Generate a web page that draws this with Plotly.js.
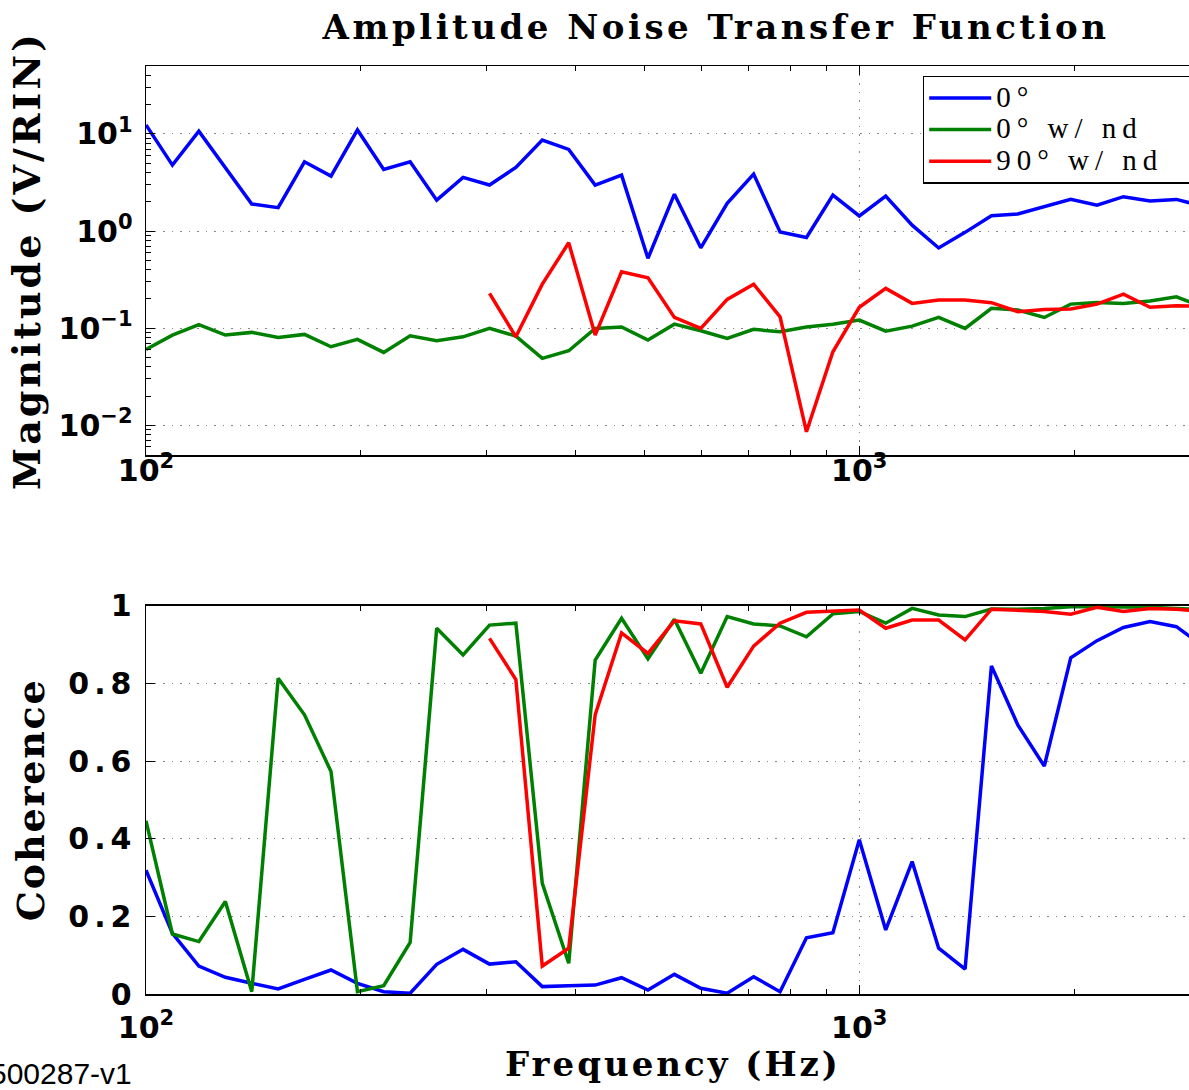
<!DOCTYPE html>
<html><head><meta charset="utf-8">
<script src="https://cdn.plot.ly/plotly-3.0.1.min.js"></script>
<style>
html,body{margin:0;padding:0;overflow:hidden;background:#fff;}
#chart{width:1210px;height:1090px;}
.gtitle{letter-spacing:3.5px;}
.ytitle{letter-spacing:3px;}
.y2title{letter-spacing:1.8px;}
.xtitle,.x2title{letter-spacing:3px;}
.y2tick text{letter-spacing:5px;}
.legendtext{letter-spacing:6px;font-size:29px !important;}
.legend rect.bg{width:290px !important;}
</style></head><body><div id="chart"></div>
<script>
const freq = [100,108.9,118.6,129.2,140.7,153.2,166.8,181.7,197.9,215.4,234.6,255.6,278.3,303.1,330.0,359.4,391.4,426.3,464.2,505.5,550.5,599.5,652.8,711.0,774.3,843.2,918.3,1000,1089,1186,1292,1407,1532,1668,1817,1979,2154,2346,2556,2783,3031];
const seriesNames = ['0°', '0° w/ nd', '90° w/ nd'];
const magBlue = [12.4,4.78,10.7,4.5,1.9,1.74,5.17,3.68,11.0,4.32,5.17,2.08,3.57,2.98,4.53,8.65,6.94,2.98,3.77,0.524,2.40,0.673,1.93,3.86,0.98,0.86,2.35,1.43,2.29,1.15,0.67,0.97,1.44,1.50,1.78,2.12,1.85,2.26,2.04,2.12,1.81];
const magGreen = [0.0605,0.0849,0.109,0.0849,0.0905,0.0804,0.0863,0.0644,0.0767,0.0563,0.0835,0.0742,0.0815,0.0995,0.0829,0.0489,0.0585,0.0995,0.103,0.0754,0.110,0.094,0.0785,0.0972,0.0918,0.103,0.110,0.121,0.0933,0.105,0.129,0.0995,0.160,0.154,0.129,0.177,0.184,0.180,0.191,0.210,0.166];
const magRed = [null,null,null,null,null,null,null,null,null,null,null,null,null,0.228,0.0815,0.284,0.758,0.0849,0.381,0.331,0.129,0.0995,0.198,0.284,0.131,0.00857,0.0571,0.164,0.257,0.180,0.195,0.195,0.183,0.148,0.156,0.158,0.177,0.224,0.164,0.170,0.169];
const cohBlue = [0.319,0.156,0.072,0.043,0.0275,0.0129,0.0378,0.0618,0.0275,0.006,0.002,0.0764,0.115,0.077,0.083,0.019,0.0215,0.023,0.042,0.0103,0.0506,0.0146,0.002,0.0446,0.006,0.145,0.158,0.397,0.165,0.341,0.118,0.064,0.845,0.693,0.587,0.866,0.91,0.944,0.959,0.946,0.896];
const cohGreen = [0.446,0.1545,0.135,0.238,0.006,0.813,0.719,0.573,0.006,0.0215,0.133,0.942,0.873,0.950,0.955,0.285,0.079,0.860,0.9675,0.863,0.965,0.826,0.972,0.953,0.948,0.920,0.979,0.985,0.955,0.993,0.976,0.972,0.9915,0.991,0.993,0.9975,0.9975,0.9975,0.996,0.993,0.99];
const cohRed = [null,null,null,null,null,null,null,null,null,null,null,null,null,0.916,0.810,0.072,0.118,0.719,0.930,0.877,0.961,0.953,0.790,0.896,0.955,0.983,0.986,0.989,0.942,0.963,0.963,0.912,0.991,0.989,0.985,0.978,0.996,0.985,0.993,0.991,0.985];
const xTickVals = [100, 1000];
const xTickText = ['10<sup>2</sup>', '10<sup>3</sup>'];
const magTickVals = [0.01, 0.1, 1, 10];
const magTickText = ['10<sup>−2</sup>', '10<sup>−1</sup>', '10<sup>0</sup>', '10<sup>1</sup>'];
const cohTickVals = [0, 0.2, 0.4, 0.6, 0.8, 1];
const cohTickText = ['0', '0.2', '0.4', '0.6', '0.8', '1'];
const colors = ['#0000ff', '#008000', '#ff0000'];

const W = 1210, H = 1090;
const L = 146, R = 10;
const plotW = W - L - R;
const decadePx = 713.3;

function line(x, y, i, xa, ya, show) {
  return {x: x, y: y, xaxis: xa, yaxis: ya, type: 'scatter', mode: 'lines',
    name: seriesNames[i], showlegend: show, connectgaps: false,
    line: {color: colors[i], width: 3.5}};
}
const data = [
  line(freq, magBlue, 0, 'x', 'y', true),
  line(freq, magGreen, 1, 'x', 'y', true),
  line(freq, magRed, 2, 'x', 'y', true),
  line(freq, cohBlue, 0, 'x2', 'y2', false),
  line(freq, cohGreen, 1, 'x2', 'y2', false),
  line(freq, cohRed, 2, 'x2', 'y2', false)
];

const tickFont = {family: 'DejaVu Sans, Verdana, sans-serif', size: 30, color: '#000', weight: 'bold'};
const serif = 'DejaVu Serif, Liberation Serif, serif';
const titleFont = {family: serif, size: 34, color: '#000', weight: 'bold'};
const yTitleFont = {family: serif, size: 38, color: '#000', weight: 'bold'};
const gridDash = '1.5px,7px';
const xRange = [2, 2 + plotW / decadePx];

function xAxis(anchor, standoff) {
  return {type: 'log', range: xRange, domain: [0, 1], anchor: anchor,
    tickmode: 'array', tickvals: xTickVals, ticktext: xTickText,
    ticks: 'inside', ticklen: 9, tickwidth: 1, tickcolor: '#000',
    showline: true, linecolor: '#000', linewidth: 1.5, mirror: 'ticks',
    showgrid: true, gridcolor: '#888', gridwidth: 1, griddash: gridDash,
    zeroline: false, tickfont: tickFont, ticklabelstandoff: standoff,
    minor: {ticks: 'inside', ticklen: 5, tickcolor: '#000', dtick: 'D1', showgrid: false}};
}

const layout = {
  width: W, height: H,
  margin: {l: L, r: R, t: 0, b: 0, autoexpand: false},
  paper_bgcolor: '#fff', plot_bgcolor: '#fff',
  showlegend: true,
  title: {text: 'Amplitude Noise Transfer Function', font: titleFont,
    x: 716 / W, xref: 'container', xanchor: 'center',
    y: 1 - 27 / H, yref: 'container', yanchor: 'middle'},
  xaxis: xAxis('y', -12),
  xaxis2: Object.assign(xAxis('y2', 6), {title: {text: 'Frequency (Hz)', font: titleFont, standoff: 0}}),
  yaxis: {type: 'log', range: [-2.306, 1.700], domain: [1 - 455 / H, 1 - 66 / H], anchor: 'x',
    tickmode: 'array', tickvals: magTickVals, ticktext: magTickText,
    ticks: 'inside', ticklen: 9, tickwidth: 1, tickcolor: '#000',
    showline: true, linecolor: '#000', linewidth: 1.5, mirror: 'ticks',
    showgrid: true, gridcolor: '#888', gridwidth: 1, griddash: gridDash,
    zeroline: false, tickfont: tickFont, ticklabelstandoff: 6,
    minor: {ticks: 'inside', ticklen: 5, tickcolor: '#000', dtick: 'D1', showgrid: false},
    title: {text: 'Magnitude (V/RIN)', font: yTitleFont, standoff: 6}},
  yaxis2: {range: [0, 1], domain: [1 - 994 / H, 1 - 605.7 / H], anchor: 'x2',
    tickmode: 'array', tickvals: cohTickVals, ticktext: cohTickText,
    ticks: 'inside', ticklen: 9, tickwidth: 1, tickcolor: '#000',
    showline: true, linecolor: '#000', linewidth: 1.5, mirror: 'ticks',
    showgrid: true, gridcolor: '#888', gridwidth: 1, griddash: gridDash,
    zeroline: false, tickfont: tickFont, ticklabelstandoff: 2,
    title: {text: 'Coherence', font: yTitleFont, standoff: 12}},
  legend: {x: (922.7 - L) / plotW, xanchor: 'left', y: 1 - 75.7 / H, yanchor: 'top',
    xref: 'paper', yref: 'paper',
    bgcolor: '#fff', bordercolor: '#000', borderwidth: 1.5,
    font: {family: 'Liberation Serif, Times New Roman, serif', size: 22, color: '#000'},
    itemwidth: 62, tracegroupgap: 0},
  annotations: [{text: '500287-v1', xref: 'paper', yref: 'paper',
    x: (134 - L) / plotW, xanchor: 'right', y: 1 - 1073 / H, yanchor: 'middle',
    showarrow: false, font: {family: 'Liberation Sans, Arial, sans-serif', size: 30, color: '#000'}}]
};

Plotly.newPlot('chart', data, layout, {displayModeBar: false, staticPlot: true});
</script></body></html>
